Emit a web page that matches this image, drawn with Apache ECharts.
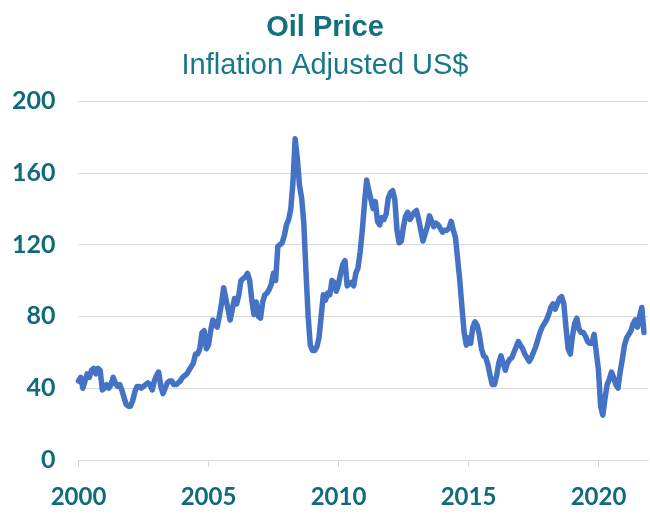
<!DOCTYPE html>
<html>
<head>
<meta charset="utf-8">
<script src="https://cdn.jsdelivr.net/npm/echarts@6/dist/echarts.min.js"></script>
<style>
html,body{margin:0;padding:0;background:#fff;}
#chart{width:650px;height:519px;}
</style>
</head>
<body>
<div id="chart"></div>
<script>
// ---- data (inflation adjusted US$, monthly) ----
const titleText = 'Oil Price';
const subtitleText = 'Inflation Adjusted US$';
const startYear = 2000;
const endYear = 2021;           // axis runs to Dec of this year
const yTicks = [0, 40, 80, 120, 160, 200];
const xTickYears = [2000, 2005, 2010, 2015, 2020];

const p2000 = [44, 46, 40, 44, 48, 46, 50, 51, 48, 51, 50, 39];
const p2001 = [40, 42, 40, 42, 46, 43, 41, 42, 39, 35, 31, 30];
const p2002 = [30, 33, 38, 41, 41, 40, 41, 42, 43, 42, 39, 44];
const p2003 = [47, 49, 41, 37, 40, 43, 44, 44, 42, 42, 43, 44];
const p2004 = [46, 47, 48, 50, 52, 54, 59, 59, 62, 71, 72, 62];
const p2005 = [64, 72, 78, 76, 74, 80, 87, 96, 90, 84, 78, 84];
const p2006 = [90, 87, 92, 100, 101, 102, 104, 100, 89, 81, 88, 80];
const p2007 = [79, 88, 92, 93, 95, 98, 104, 100, 119, 120, 121, 125];
const p2008 = [131, 134, 140, 155, 179, 168, 153, 146, 132, 105, 80, 64];
const p2009 = [61, 61, 63, 68, 80, 92, 89, 93, 92, 100, 99, 94];
const p2010 = [98, 104, 109, 111, 97, 98, 99, 97, 104, 107, 116, 128];
const p2011 = [143, 156, 150, 145, 140, 144, 133, 131, 135, 134, 137, 146];
const p2012 = [149, 150, 145, 128, 121, 122, 130, 136, 138, 134, 136, 138];
const p2013 = [139, 134, 128, 122, 126, 130, 136, 133, 130, 132, 131, 129];
const p2014 = [127, 128, 128, 129, 133, 128, 124, 112, 100, 85, 71, 64];
const p2015 = [68, 65, 74, 77, 75, 70, 62, 58, 57, 53, 47, 42];
const p2016 = [42, 47, 54, 58, 54, 50, 54, 56, 57, 60, 63, 66];
const p2017 = [64, 62, 59, 57, 55, 57, 60, 63, 67, 71, 74, 76];
const p2018 = [78, 81, 85, 87, 84, 87, 90, 91, 87, 74, 62, 59];
const p2019 = [69, 76, 79, 73, 71, 71, 69, 66, 65, 65, 70, 60];
const p2020 = [50, 30, 25, 34, 42, 45, 49, 46, 42, 40, 49, 56];
const p2021 = [64, 68, 70, 72, 76, 78, 74, 80, 85, 71];

// ---- build ----
const prices = [].concat(p2000, p2001, p2002, p2003, p2004, p2005, p2006, p2007,
  p2008, p2009, p2010, p2011, p2012, p2013, p2014, p2015, p2016, p2017, p2018,
  p2019, p2020, p2021);
const categories = [];
for (let y = startYear; y <= endYear; y++) {
  for (let m = 1; m <= 12; m++) categories.push(y + '-' + (m < 10 ? '0' + m : m));
}
const seriesData = categories.map((c, i) => (i < prices.length ? prices[i] : null));
const isYearTick = (idx) => {
  const y = startYear + Math.floor(idx / 12);
  return idx % 12 === 0 && xTickYears.indexOf(y) >= 0;
};

const teal = '#0f6a7b';
const chart = echarts.init(document.getElementById('chart'), null, {renderer: 'canvas'});
chart.setOption({
  animation: false,
  backgroundColor: '#ffffff',
  title: [
    {
      text: titleText, left: 'center', top: 8,
      textStyle: {fontFamily: '"Liberation Sans", Arial, sans-serif',
        fontSize: 29, fontWeight: 'bold', color: '#12707f'}
    },
    {
      text: subtitleText, left: 'center', top: 46,
      textStyle: {fontFamily: '"Liberation Sans", Arial, sans-serif',
        fontSize: 29, fontWeight: 'normal', color: '#17788a'}
    }
  ],
  grid: {left: 78.5, right: 1.7, top: 101, bottom: 59, containLabel: false},
  xAxis: {
    type: 'category',
    data: categories,
    boundaryGap: false,
    axisLine: {show: true, lineStyle: {color: '#d9d9d9', width: 1}},
    axisTick: {show: true, interval: (idx) => isYearTick(idx), length: 7,
      lineStyle: {color: '#d9d9d9'}},
    axisLabel: {
      interval: (idx) => isYearTick(idx),
      formatter: (v) => v.slice(0, 4),
      fontFamily: 'Lato, "Open Sans", sans-serif', fontWeight: 'bold',
      fontSize: 24, color: teal, margin: 25
    },
    splitLine: {show: false}
  },
  yAxis: {
    type: 'value',
    min: yTicks[0], max: yTicks[yTicks.length - 1], interval: 40,
    axisLine: {show: false},
    axisTick: {show: false},
    axisLabel: {
      fontFamily: 'Lato, "Open Sans", sans-serif', fontWeight: 'bold',
      fontSize: 25, color: teal, margin: 23
    },
    splitLine: {show: true, lineStyle: {color: '#d9d9d9', width: 1}}
  },
  series: [{
    type: 'line',
    data: seriesData,
    showSymbol: false,
    symbol: 'none',
    smooth: false,
    connectNulls: false,
    lineStyle: {color: '#4472c4', width: 5.5, join: 'round', cap: 'round'}
  }]
});
</script>
</body>
</html>
